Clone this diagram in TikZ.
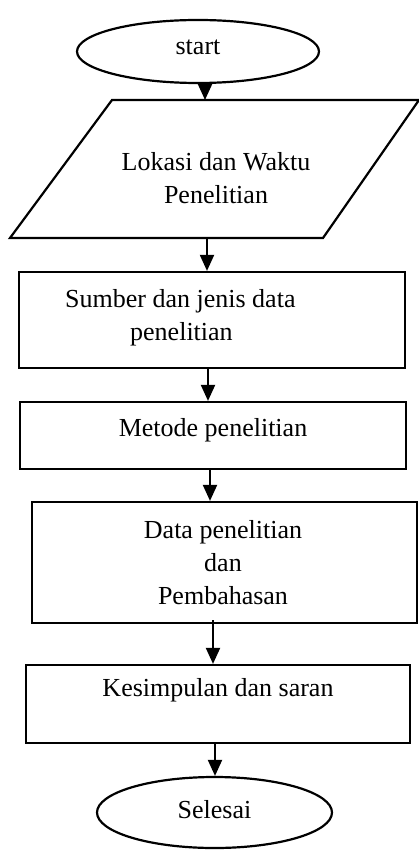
\documentclass[tikz,border=0pt]{standalone}
\usepackage{fontspec}
\setmainfont{Liberation Serif}
\usetikzlibrary{shapes.geometric,arrows.meta}
\begin{document}
\begin{tikzpicture}[x=1pt,y=-1pt,
  shapeline/.style={line width=2.2pt},
  term/.style={ellipse,draw,shapeline,inner sep=0pt},
  procbox/.style={rectangle,draw,shapeline,inner sep=0pt},
  txt/.style={inner sep=0pt,align=center,font=\fontsize{26}{33}\selectfont},
  arr/.style={line width=2pt,-{Triangle[length=16pt,width=14pt]}}]
\useasboundingbox (0,0) rectangle (418,850);
% start
\node[term,minimum width=242pt,minimum height=63pt] (start) at (198,51.5) {};
\node[txt] (tstart) at (198,47) {start};
% parallelogram
\coordinate (pBL) at (10,238);
\coordinate (pTL) at (112,100);
\coordinate (pTR) at (419,100);
\coordinate (pBR) at (323,238);
\draw[shapeline,line join=miter] (pBL) -- (pTL) -- (pTR) -- (pBR) -- cycle;
\node[txt] (tlok) at (216,178) {Lokasi dan Waktu\\Penelitian};
% boxes
\node[procbox,minimum width=386pt,minimum height=96pt] (b1) at (212,320) {};
\node[txt,anchor=west,align=left] (t1) at (65,318) {Sumber dan jenis data\\\hspace*{65pt}penelitian};
\node[procbox,minimum width=386pt,minimum height=67pt] (b2) at (213,435.5) {};
\node[txt] (t2) at (213,430) {Metode penelitian};
\node[procbox,minimum width=385pt,minimum height=121pt] (b3) at (224.5,562.5) {};
\node[txt] (t3) at (223,563) {Data penelitian\\dan\\Pembahasan};
\node[procbox,minimum width=384pt,minimum height=78pt] (b4) at (218,704) {};
\node[txt] (t4) at (218,690) {Kesimpulan dan saran};
% end
\node[term,minimum width=235pt,minimum height=71pt] (end) at (214.5,812.5) {};
\node[txt] (tend) at (214.5,810) {Selesai};
% arrow x positions
\coordinate (c1) at (205,0);
\coordinate (c2) at (207,0);
\coordinate (c3) at (208,0);
\coordinate (c4) at (210,0);
\coordinate (c5) at (213,0);
\coordinate (c6) at (215,0);
\draw[arr] (start.south -| c1) -- (pTL -| c1);
\draw[arr] (pBL -| c2) -- (b1.north -| c2);
\draw[arr] (b1.south -| c3) -- (b2.north -| c3);
\draw[arr] (b2.south -| c4) -- (b3.north -| c4);
\draw[arr] ([yshift=4pt]b3.south -| c5) -- (b4.north -| c5);
\draw[arr] (b4.south -| c6) -- (end.north -| c6);
\end{tikzpicture}
\end{document}
